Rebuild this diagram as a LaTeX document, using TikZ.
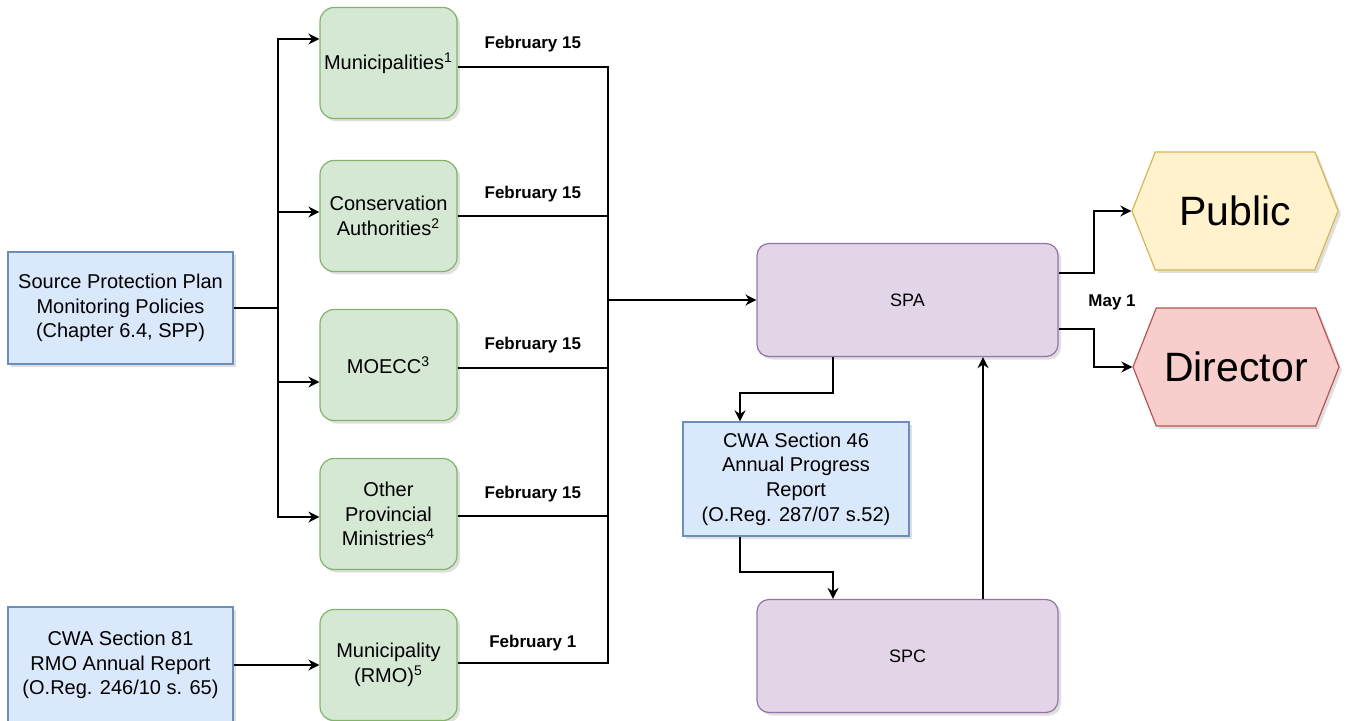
\documentclass[tikz,border=0pt]{standalone}
\usepackage{fontspec}
\setmainfont{Liberation Sans}
\usetikzlibrary{shapes.symbols,shadows,arrows.meta}

\definecolor{repFill}{HTML}{DAE8FC}
\definecolor{repLine}{HTML}{6C8EBF}
\definecolor{agFill}{HTML}{D5E8D4}
\definecolor{agLine}{HTML}{82B366}
\definecolor{offFill}{HTML}{E1D5E7}
\definecolor{offLine}{HTML}{9673A6}
\definecolor{pubFill}{HTML}{FFF2CC}
\definecolor{pubLine}{HTML}{D6B656}
\definecolor{dirFill}{HTML}{F8CECC}
\definecolor{dirLine}{HTML}{B85450}

\tikzset{
  soft/.style={drop shadow={opacity=0.25,shadow xshift=1.5pt,shadow yshift=-1.5pt}},
  report/.style={draw=repLine, fill=repFill, line width=0.6pt, soft, align=center,
    minimum width=112.5pt, minimum height=56pt, font=\fontsize{10}{12.3}\selectfont},
  agency/.style={draw=agLine, fill=agFill, line width=0.6pt, soft, rounded corners=7pt,
    align=center, minimum width=68.5pt, minimum height=55.5pt, inner sep=1pt,
    font=\fontsize{10}{12.3}\selectfont},
  office/.style={draw=offLine, fill=offFill, line width=0.6pt, soft, rounded corners=6pt,
    minimum width=150.5pt, minimum height=56.5pt, font=\fontsize{9}{11}\selectfont},
  audience/.style={signal, signal to=west and east, signal pointer angle=137,
    line width=0.6pt, soft, minimum width=103pt, minimum height=59pt,
    font=\fontsize{20.5}{24}\selectfont},
  due/.style={font=\bfseries\fontsize{8.5}{10}\selectfont}
}

\begin{document}
\begin{tikzpicture}[x=0.5pt, y=-0.5pt, line width=0.9pt, >={Stealth[length=5.5pt,width=5.5pt]}]
  \useasboundingbox (0,0) rectangle (1347,721);

  % reports on the left
  \node[report] (spp) at (120.5,308) {Source Protection Plan\\Monitoring Policies\\(Chapter 6.4, SPP)};
  \node[report, minimum height=58pt] (rmorep) at (120.5,665) {CWA Section 81\\RMO Annual Report\\(O.Reg. 246/10 s. 65)};

  % implementing bodies
  \node[agency] (muni) at (388.5,63) {Municipalities\textsuperscript{1}};
  \node[agency] (ca) at (388.5,216) {Conservation\\Authorities\textsuperscript{2}};
  \node[agency] (moecc) at (388.5,365) {MOECC\textsuperscript{3}};
  \node[agency] (opm) at (388.5,514) {Other\\Provincial\\Ministries\textsuperscript{4}};
  \node[agency] (rmo) at (388.5,665) {Municipality\\(RMO)\textsuperscript{5}};

  % authority, committee and their report
  \node[office] (spa) at (907.5,300) {SPA};
  \node[office] (spc) at (907.5,656) {SPC};
  \node[report, minimum width=113pt, minimum height=57pt] (apr) at (796,479) {CWA Section 46\\Annual Progress\\Report\\(O.Reg. 287/07 s.52)};

  % who gets the report
  \node[audience, draw=pubLine, fill=pubFill] (pub) at (1235,211) {Public};
  \node[audience, draw=dirLine, fill=dirFill] (dir) at (1236,367) {Director};

  % policies go out to the bodies
  \coordinate (split) at (278,308);
  \draw (spp.east) -- (split);
  \draw[->] (split) |- (muni.west |- 0,39);
  \draw[->] (split) |- (ca.west |- 0,212);
  \draw[->] (split) |- (moecc.west |- 0,382);
  \draw[->] (split) |- (opm.west |- 0,517);
  \draw[->] (rmorep) -- (rmo);

  % reports come back to the SPA
  \coordinate (merge) at (608,300);
  \draw (muni.east |- 0,67) -- node[due, above=3.5pt] (d1) {February 15} (merge |- 0,67) -- (merge);
  \draw (ca.east |- 0,216) -- node[due, above=3pt] (d2) {February 15} (merge |- 0,216) -- (merge);
  \draw (moecc.east |- 0,368) -- node[due, above=3.5pt] (d3) {February 15} (merge |- 0,368) -- (merge);
  \draw (opm.east |- 0,516) -- node[due, above=3pt] (d4) {February 15} (merge |- 0,516) -- (merge);
  \draw (rmo.east |- 0,663) -- node[due, above=2pt] (d5) {February 1} (merge |- 0,663) -- (merge);
  \draw[->] (merge) -- (spa.west |- merge);

  % SPA, report and SPC loop
  \draw[->] (spa.south -| 833,0) |- (740,393) -- (apr.north -| 740,0);
  \draw[->] (apr.south -| 740,0) |- (833,572) -- (spc.north -| 833,0);
  \draw[->] (spc.north -| 983,0) -- (spa.south -| 983,0);

  % publishing
  \draw[->] (spa.east |- 0,273) -- (1094,273) |- (pub.west);
  \draw[->] (spa.east |- 0,329) -- (1094,329) |- (dir.west);
  \node[due] (may) at (1112,302) {May 1};
\end{tikzpicture}
\end{document}
